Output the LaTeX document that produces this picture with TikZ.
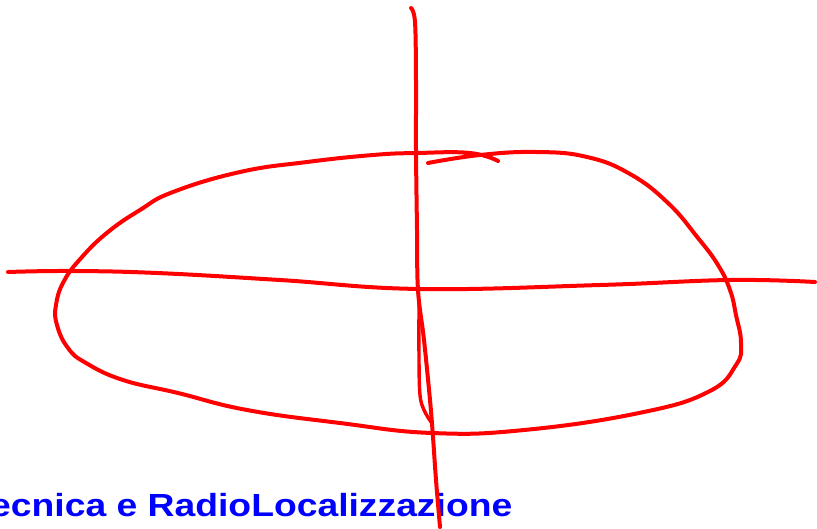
\documentclass[tikz,border=0pt]{standalone}
\usepackage{fontspec}
\setmainfont{Liberation Sans}
\begin{document}
\begin{tikzpicture}[x=1pt,y=-1pt,
  pen/.style={draw=red,line width=4pt,line cap=round,line join=round},
  titletext/.style={text=blue,font=\fontsize{32}{36}\selectfont\bfseries,inner sep=0pt,anchor=base west}]
\useasboundingbox (0,0) rectangle (817,528);
\clip (0,0) rectangle (817,528);
% title
\node[titletext] (title) at (-30,516) {\scalebox{1.165}[1]{Tecnica e RadioLocalizzazione}};
% horizontal stroke
\draw[pen] plot[smooth,tension=0.7] coordinates {(8,272) (70,271) (157,273) (280,280) (420,289) (600,285) (730,280) (815,282)};
% vertical stroke
\draw[pen] plot[smooth,tension=0.6] coordinates {(411,8) (415,22) (416,80) (416,150) (417,230) (418,290) (424,340) (430,400) (433,437) (436,480) (440,527)};
\draw[pen,line width=3.4pt] plot[smooth,tension=0.6] coordinates {(419,300) (419,360) (420,395) (424,410) (431,422)};
% loop
\draw[pen] plot[smooth,tension=0.75] coordinates {(428,163) (480,155) (537,152) (587,157) (630,174) (668,203) (698,238) (718,265) (730,290) (736,315) (741,343) (736,365) (708,392) (639,413) (524,430) (432,433) (340,423) (247,410) (178,393) (123,380) (86,363) (68,348) (57,325) (56,305) (64,281) (82,257) (108,232) (140,210) (173,192) (240,172) (307,162) (373,155) (417,153) (470,153) (498,161)};
\end{tikzpicture}
\end{document}
